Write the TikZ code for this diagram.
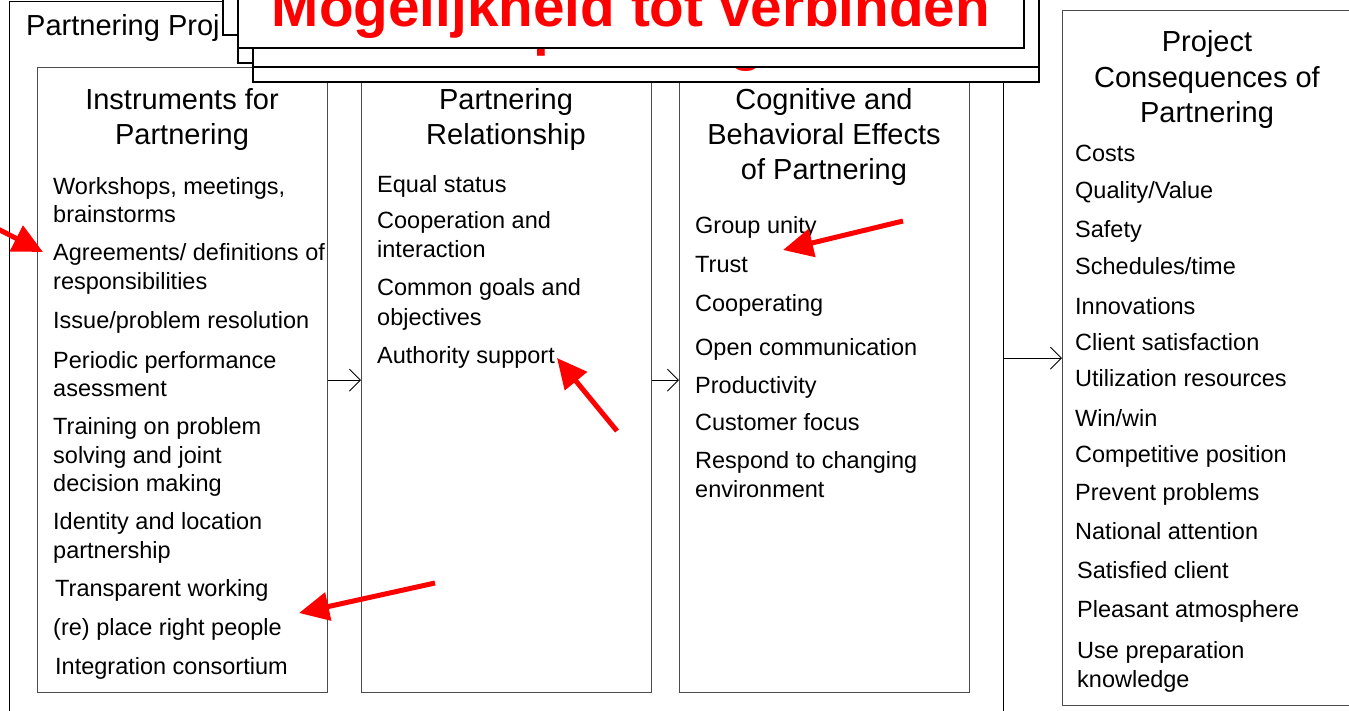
\documentclass[tikz,border=0pt]{standalone}
\usepackage{fontspec}
\setmainfont{Liberation Sans}
\usetikzlibrary{arrows.meta}
\definecolor{pptred}{RGB}{255,0,0}
\begin{document}
\begin{tikzpicture}[x=1pt,y=-1pt,
  panel/.style={draw=black!70, line width=1.3pt, fill=white, rectangle, inner sep=0pt, anchor=north west, minimum width=290pt},
  ttl/.style={font=\fontsize{29}{35}\selectfont, anchor=base, inner sep=0pt},
  itm/.style={font=\fontsize{23.5}{28.5}\selectfont, anchor=base west, inner sep=0pt},
  conn/.style={line width=0.9pt, -{Straight Barb[length=11pt,width=22pt,line width=0.9pt]}},
  redarr/.style={pptred, line width=5pt, -{Triangle[length=30pt,width=28pt]}},
  stackbox/.style={draw=black, line width=1.2pt, fill=white},
  frontbox/.style={draw=black, line width=2.2pt, fill=white},
  frag/.style={text=pptred, font=\fontsize{56.7}{60}\selectfont\bfseries, anchor=base west, inner sep=0pt},
]
\useasboundingbox (0,0) rectangle (1349,711);
\clip (0,0) rectangle (1349,711);
\fill[white] (0,0) rectangle (1349,711);

% outer frame
\node[draw=black, line width=1pt, rectangle, inner sep=0pt, anchor=north west,
      minimum width=994pt, minimum height=760pt] (outer) at (9,1) {};
\node[ttl, anchor=base west] (outerlbl) at (26,36) {Partnering Proj};

% panels
\node[panel, minimum height=625pt] (p1) at (37,67) {};
\node[panel, minimum height=625pt] (p2) at (361,67) {};
\node[panel, minimum height=625pt] (p3) at (679,67) {};
\node[panel, minimum height=695pt] (p4) at (1062,10) {};

% stacked title boxes (back to front)
\filldraw[stackbox] (223,-40) rectangle (700,35);
\filldraw[stackbox] (238,-40) rectangle (1024,63);
\filldraw[stackbox] (253,-40) rectangle (1039,82);
\node[frag] (fragg) at (729,60) {g};
\filldraw[stackbox] (253,-40) rectangle (1039,67);
\node[frag] (fragp) at (533,45) {p};
\filldraw[frontbox] (238,-40) rectangle (1024,48);
\node[frag, anchor=base] (title) at (631,27) {Mogelijkheid tot verbinden};

% panel titles
\node[ttl] (t1a) at (182,110) {Instruments for};
\node[ttl] (t1b) at (182,145) {Partnering};
\node[ttl] (t2a) at (506,110) {Partnering};
\node[ttl] (t2b) at (506,145) {Relationship};
\node[ttl] (t3a) at (824,110) {Cognitive and};
\node[ttl] (t3b) at (824,145) {Behavioral Effects};
\node[ttl] (t3c) at (824,180) {of Partnering};
\node[ttl] (t4a) at (1207,52) {Project};
\node[ttl] (t4b) at (1207,88) {Consequences of};
\node[ttl] (t4c) at (1207,123) {Partnering};

% panel items
\foreach \xx/\yy/\tx [count=\i] in {
  53/195/{Workshops, meetings,},
  53/223/{brainstorms},
  53/261/{Agreements/ definitions of},
  53/290/{responsibilities},
  53/328/{Issue/problem resolution},
  53/368/{Periodic performance},
  53/396/{asessment},
  53/434/{Training on problem},
  53/463/{solving and joint},
  53/491/{decision making},
  53/529/{Identity and location},
  53/558/{partnership},
  55/596/{Transparent working},
  53/635/{(re) place right people},
  55/674/{Integration consortium}}
  \node[itm] (a\i) at (\xx,\yy) {\tx};

\foreach \xx/\yy/\tx [count=\i] in {
  377/193/{Equal status},
  377/229/{Cooperation and},
  377/258/{interaction},
  377/296/{Common goals and},
  377/325/{objectives},
  377/363/{Authority support}}
  \node[itm] (b\i) at (\xx,\yy) {\tx};

\foreach \xx/\yy/\tx [count=\i] in {
  695/234/{Group unity},
  695/273/{Trust},
  695/312/{Cooperating},
  695/355/{Open communication},
  695/393/{Productivity},
  695/430/{Customer focus},
  695/468/{Respond to changing},
  695/497/{environment}}
  \node[itm] (c\i) at (\xx,\yy) {\tx};

\foreach \xx/\yy/\tx [count=\i] in {
  1075/162/{Costs},
  1075/199/{Quality/Value},
  1075/238/{Safety},
  1075/275/{Schedules/time},
  1075/314/{Innovations},
  1075/350/{Client satisfaction},
  1075/386/{Utilization resources},
  1075/426/{Win/win},
  1075/462/{Competitive position},
  1075/500/{Prevent problems},
  1075/539/{National attention},
  1077/578/{Satisfied client},
  1077/617/{Pleasant atmosphere},
  1077/658/{Use preparation},
  1077/687/{knowledge}}
  \node[itm] (d\i) at (\xx,\yy) {\tx};

% connectors
\draw[conn] (p1.east) -- (p2.west);
\draw[conn] (p2.east) -- (p3.west);
\draw[conn] (outer.east |- p4.west) -- (p4.west);

% red arrows
\coordinate (r1s) at (-10,225);
\coordinate (r1e) at (43,252);
\coordinate (r2s) at (903,221);
\coordinate (r2e) at (783,250);
\coordinate (r3s) at (617,431);
\coordinate (r3e) at (557,358);
\coordinate (r4s) at (435,583);
\coordinate (r4e) at (299,613);
\draw[redarr] (r1s) -- (r1e);
\draw[redarr] (r2s) -- (r2e);
\draw[redarr] (r3s) -- (r3e);
\draw[redarr] (r4s) -- (r4e);
\end{tikzpicture}
\end{document}
